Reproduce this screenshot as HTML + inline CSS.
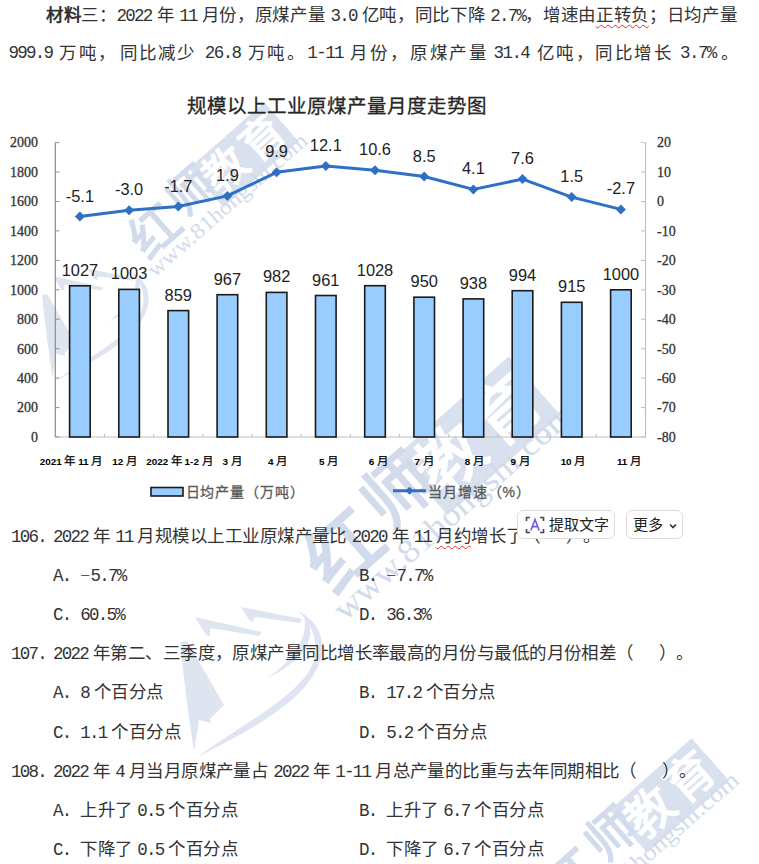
<!DOCTYPE html>
<html lang="zh-CN"><head><meta charset="utf-8">
<style>
html,body{margin:0;padding:0;background:#fff;}
body{width:759px;height:864px;position:relative;overflow:hidden;text-spacing-trim:space-all;font-family:"Liberation Serif",serif;color:#000;}
.t{position:absolute;font-size:17.5px;line-height:20px;white-space:nowrap;letter-spacing:0.45px;color:#333;}
.n{font-family:"Liberation Mono",monospace;letter-spacing:-1.75px;}
.j{text-align:justify;text-align-last:justify;}
svg{position:absolute;left:0;top:0;}
.ax{font-family:"Liberation Serif",serif;font-size:14px;fill:#333;stroke:#333;stroke-width:0.3px;}
.dl{font-family:"Liberation Sans",sans-serif;font-size:16.4px;fill:#222;}
.xl{font-family:"Liberation Sans",sans-serif;font-size:9.9px;font-weight:bold;fill:#000;}
.xc{font-size:11.5px;font-weight:normal;stroke:#000;stroke-width:0.25px;}
.ttl{font-family:"Liberation Sans",sans-serif;font-size:19.5px;font-weight:400;fill:#262626;stroke:#262626;stroke-width:0.3px;}
.lg{font-family:"Liberation Sans",sans-serif;font-size:14px;fill:#595959;stroke:#595959;stroke-width:0.3px;}
.btn{position:absolute;background:#fff;border:1px solid #dcdcdc;border-radius:6px;font-family:"Liberation Sans",sans-serif;font-size:15px;color:#222;box-sizing:border-box;}
.wmc{font-family:"Liberation Serif",serif;font-size:44px;font-weight:bold;}
.wmu{font-family:"Liberation Serif",serif;font-size:22px;}
.sq{text-decoration:underline wavy #e03030;text-decoration-thickness:1px;text-underline-offset:3px;}
</style></head><body>
<svg width="759" height="864" viewBox="0 0 759 864">
<g transform="translate(180 642) scale(1.0)">
<path d="M0 0 L7 -1 L44 63 L30 77 L31 81 L19 78 L14 110 C9 75 4 40 0 0Z" fill="#dee5f0"/>
<path d="M15 -25 L82 -10 L79 -6 L30 -14 L30 -6 L26 -7 Z" fill="#dee5f0"/>
<path d="M61 -35 L122 -23 L120 -19 L75 -25 L73 -20 L70 -21 Z" fill="#dee5f0"/>
<path d="M118 -31 C150 -15 150 20 120 50 C90 80 45 100 18 115 C50 90 100 65 125 35 C140 15 140 -10 118 -31Z" fill="#dee5f0"/>
<path d="M124 -28 C138 -10 130 15 88 36 C120 12 128 -8 124 -28Z" fill="#dee5f0"/>
</g>
<g transform="translate(42 295) scale(0.75)">
<path d="M0 0 L7 -1 L44 63 L30 77 L31 81 L19 78 L14 110 C9 75 4 40 0 0Z" fill="#dee5f0"/>
<path d="M15 -25 L82 -10 L79 -6 L30 -14 L30 -6 L26 -7 Z" fill="#dee5f0"/>
<path d="M61 -35 L122 -23 L120 -19 L75 -25 L73 -20 L70 -21 Z" fill="#dee5f0"/>
<path d="M118 -31 C150 -15 150 20 120 50 C90 80 45 100 18 115 C50 90 100 65 125 35 C140 15 140 -10 118 -31Z" fill="#dee5f0"/>
<path d="M124 -28 C138 -10 130 15 88 36 C120 12 128 -8 124 -28Z" fill="#dee5f0"/>
</g>
<g transform="translate(155 278) rotate(-41.3) scale(1.0)">
<rect x="98" y="-60" width="100" height="52" fill="#d9e1ee"/>
<text x="31" y="-18" text-anchor="middle" class="wmc" style="font-size:50px" fill="#d2dbeb">红</text>
<text x="84" y="-26" text-anchor="middle" class="wmc" style="font-size:46px" fill="#d2dbeb">师</text>
<text x="124" y="-19" text-anchor="middle" class="wmc" style="font-size:44px" fill="#fff">教</text>
<text x="173" y="-19" text-anchor="middle" class="wmc" style="font-size:44px" fill="#fff">育</text>
<text x="0" y="0" class="wmu" fill="#d2dbeb" textLength="205" lengthAdjust="spacingAndGlyphs">www.81hongshi.com</text>
</g>
<g transform="translate(345 622) rotate(-41.5) scale(1.507)">
<rect x="98" y="-60" width="100" height="52" fill="#d9e1ee"/>
<text x="31" y="-18" text-anchor="middle" class="wmc" style="font-size:50px" fill="#d2dbeb">红</text>
<text x="84" y="-26" text-anchor="middle" class="wmc" style="font-size:46px" fill="#d2dbeb">师</text>
<text x="124" y="-19" text-anchor="middle" class="wmc" style="font-size:44px" fill="#fff">教</text>
<text x="173" y="-19" text-anchor="middle" class="wmc" style="font-size:44px" fill="#fff">育</text>
<text x="0" y="0" class="wmu" fill="#d2dbeb" textLength="205" lengthAdjust="spacingAndGlyphs">www.81hongshi.com</text>
</g>
<g transform="translate(572.7 929.7) rotate(-41.3) scale(1.09)">
<rect x="98" y="-60" width="100" height="52" fill="#d9e1ee"/>
<text x="31" y="-18" text-anchor="middle" class="wmc" style="font-size:50px" fill="#d2dbeb">红</text>
<text x="84" y="-26" text-anchor="middle" class="wmc" style="font-size:46px" fill="#d2dbeb">师</text>
<text x="124" y="-19" text-anchor="middle" class="wmc" style="font-size:44px" fill="#fff">教</text>
<text x="173" y="-19" text-anchor="middle" class="wmc" style="font-size:44px" fill="#fff">育</text>
<text x="0" y="0" class="wmu" fill="#d2dbeb" textLength="205" lengthAdjust="spacingAndGlyphs">www.81hongshi.com</text>
</g>
</svg>
<svg width="759" height="864" viewBox="0 0 759 864">
<text x="337" y="113" text-anchor="middle" class="ttl">规模以上工业原煤产量月度走势图</text>
<line x1="55.3" y1="142.6" x2="55.3" y2="437.0" stroke="#8c8c8c" stroke-width="1.2"/>
<line x1="645.5" y1="142.6" x2="645.5" y2="437.0" stroke="#bfbfbf" stroke-width="1.2"/>
<line x1="55.3" y1="437.0" x2="645.5" y2="437.0" stroke="#bfbfbf" stroke-width="1.2"/>
<line x1="55.3" y1="437.0" x2="59.3" y2="437.0" stroke="#8c8c8c" stroke-width="1"/>
<text x="38" y="441.8" text-anchor="end" class="ax">0</text>
<line x1="641.0" y1="142.6" x2="645.5" y2="142.6" stroke="#bfbfbf" stroke-width="1"/>
<text x="657" y="147.4" class="ax">20</text>
<line x1="55.3" y1="407.6" x2="59.3" y2="407.6" stroke="#8c8c8c" stroke-width="1"/>
<text x="38" y="412.4" text-anchor="end" class="ax">200</text>
<line x1="641.0" y1="172.0" x2="645.5" y2="172.0" stroke="#bfbfbf" stroke-width="1"/>
<text x="657" y="176.8" class="ax">10</text>
<line x1="55.3" y1="378.1" x2="59.3" y2="378.1" stroke="#8c8c8c" stroke-width="1"/>
<text x="38" y="382.9" text-anchor="end" class="ax">400</text>
<line x1="641.0" y1="201.5" x2="645.5" y2="201.5" stroke="#bfbfbf" stroke-width="1"/>
<text x="657" y="206.3" class="ax">0</text>
<line x1="55.3" y1="348.7" x2="59.3" y2="348.7" stroke="#8c8c8c" stroke-width="1"/>
<text x="38" y="353.5" text-anchor="end" class="ax">600</text>
<line x1="641.0" y1="230.9" x2="645.5" y2="230.9" stroke="#bfbfbf" stroke-width="1"/>
<text x="657" y="235.7" class="ax">-10</text>
<line x1="55.3" y1="319.2" x2="59.3" y2="319.2" stroke="#8c8c8c" stroke-width="1"/>
<text x="38" y="324.0" text-anchor="end" class="ax">800</text>
<line x1="641.0" y1="260.4" x2="645.5" y2="260.4" stroke="#bfbfbf" stroke-width="1"/>
<text x="657" y="265.2" class="ax">-20</text>
<line x1="55.3" y1="289.8" x2="59.3" y2="289.8" stroke="#8c8c8c" stroke-width="1"/>
<text x="38" y="294.6" text-anchor="end" class="ax">1000</text>
<line x1="641.0" y1="289.8" x2="645.5" y2="289.8" stroke="#bfbfbf" stroke-width="1"/>
<text x="657" y="294.6" class="ax">-30</text>
<line x1="55.3" y1="260.4" x2="59.3" y2="260.4" stroke="#8c8c8c" stroke-width="1"/>
<text x="38" y="265.2" text-anchor="end" class="ax">1200</text>
<line x1="641.0" y1="319.2" x2="645.5" y2="319.2" stroke="#bfbfbf" stroke-width="1"/>
<text x="657" y="324.0" class="ax">-40</text>
<line x1="55.3" y1="230.9" x2="59.3" y2="230.9" stroke="#8c8c8c" stroke-width="1"/>
<text x="38" y="235.7" text-anchor="end" class="ax">1400</text>
<line x1="641.0" y1="348.7" x2="645.5" y2="348.7" stroke="#bfbfbf" stroke-width="1"/>
<text x="657" y="353.5" class="ax">-50</text>
<line x1="55.3" y1="201.5" x2="59.3" y2="201.5" stroke="#8c8c8c" stroke-width="1"/>
<text x="38" y="206.3" text-anchor="end" class="ax">1600</text>
<line x1="641.0" y1="378.1" x2="645.5" y2="378.1" stroke="#bfbfbf" stroke-width="1"/>
<text x="657" y="382.9" class="ax">-60</text>
<line x1="55.3" y1="172.0" x2="59.3" y2="172.0" stroke="#8c8c8c" stroke-width="1"/>
<text x="38" y="176.8" text-anchor="end" class="ax">1800</text>
<line x1="641.0" y1="407.6" x2="645.5" y2="407.6" stroke="#bfbfbf" stroke-width="1"/>
<text x="657" y="412.4" class="ax">-70</text>
<line x1="55.3" y1="142.6" x2="59.3" y2="142.6" stroke="#8c8c8c" stroke-width="1"/>
<text x="38" y="147.4" text-anchor="end" class="ax">2000</text>
<line x1="641.0" y1="437.0" x2="645.5" y2="437.0" stroke="#bfbfbf" stroke-width="1"/>
<text x="657" y="441.8" class="ax">-80</text>
<line x1="104.5" y1="434.0" x2="104.5" y2="437.0" stroke="#bfbfbf" stroke-width="1"/>
<line x1="153.7" y1="434.0" x2="153.7" y2="437.0" stroke="#bfbfbf" stroke-width="1"/>
<line x1="202.9" y1="434.0" x2="202.9" y2="437.0" stroke="#bfbfbf" stroke-width="1"/>
<line x1="252.0" y1="434.0" x2="252.0" y2="437.0" stroke="#bfbfbf" stroke-width="1"/>
<line x1="301.2" y1="434.0" x2="301.2" y2="437.0" stroke="#bfbfbf" stroke-width="1"/>
<line x1="350.4" y1="434.0" x2="350.4" y2="437.0" stroke="#bfbfbf" stroke-width="1"/>
<line x1="399.6" y1="434.0" x2="399.6" y2="437.0" stroke="#bfbfbf" stroke-width="1"/>
<line x1="448.8" y1="434.0" x2="448.8" y2="437.0" stroke="#bfbfbf" stroke-width="1"/>
<line x1="498.0" y1="434.0" x2="498.0" y2="437.0" stroke="#bfbfbf" stroke-width="1"/>
<line x1="547.1" y1="434.0" x2="547.1" y2="437.0" stroke="#bfbfbf" stroke-width="1"/>
<line x1="596.3" y1="434.0" x2="596.3" y2="437.0" stroke="#bfbfbf" stroke-width="1"/>
<rect x="69.6" y="285.8" width="20.6" height="151.2" fill="#99ccff" stroke="#1a1a1a" stroke-width="1.6"/>
<text x="79.9" y="275.8" text-anchor="middle" class="dl">1027</text>
<rect x="118.8" y="289.4" width="20.6" height="147.6" fill="#99ccff" stroke="#1a1a1a" stroke-width="1.6"/>
<text x="129.1" y="279.4" text-anchor="middle" class="dl">1003</text>
<rect x="168.0" y="310.6" width="20.6" height="126.4" fill="#99ccff" stroke="#1a1a1a" stroke-width="1.6"/>
<text x="178.3" y="300.6" text-anchor="middle" class="dl">859</text>
<rect x="217.1" y="294.7" width="20.6" height="142.3" fill="#99ccff" stroke="#1a1a1a" stroke-width="1.6"/>
<text x="227.4" y="284.7" text-anchor="middle" class="dl">967</text>
<rect x="266.3" y="292.4" width="20.6" height="144.6" fill="#99ccff" stroke="#1a1a1a" stroke-width="1.6"/>
<text x="276.6" y="282.4" text-anchor="middle" class="dl">982</text>
<rect x="315.5" y="295.5" width="20.6" height="141.5" fill="#99ccff" stroke="#1a1a1a" stroke-width="1.6"/>
<text x="325.8" y="285.5" text-anchor="middle" class="dl">961</text>
<rect x="364.7" y="285.7" width="20.6" height="151.3" fill="#99ccff" stroke="#1a1a1a" stroke-width="1.6"/>
<text x="375.0" y="275.7" text-anchor="middle" class="dl">1028</text>
<rect x="413.9" y="297.2" width="20.6" height="139.8" fill="#99ccff" stroke="#1a1a1a" stroke-width="1.6"/>
<text x="424.2" y="287.2" text-anchor="middle" class="dl">950</text>
<rect x="463.1" y="298.9" width="20.6" height="138.1" fill="#99ccff" stroke="#1a1a1a" stroke-width="1.6"/>
<text x="473.4" y="288.9" text-anchor="middle" class="dl">938</text>
<rect x="512.2" y="290.7" width="20.6" height="146.3" fill="#99ccff" stroke="#1a1a1a" stroke-width="1.6"/>
<text x="522.5" y="280.7" text-anchor="middle" class="dl">994</text>
<rect x="561.4" y="302.3" width="20.6" height="134.7" fill="#99ccff" stroke="#1a1a1a" stroke-width="1.6"/>
<text x="571.7" y="292.3" text-anchor="middle" class="dl">915</text>
<rect x="610.6" y="289.8" width="20.6" height="147.2" fill="#99ccff" stroke="#1a1a1a" stroke-width="1.6"/>
<text x="620.9" y="279.8" text-anchor="middle" class="dl">1000</text>
<polyline points="79.9,216.5 129.1,210.3 178.3,206.5 227.4,195.9 276.6,172.3 325.8,165.9 375.0,170.3 424.2,176.5 473.4,189.4 522.5,179.1 571.7,197.1 620.9,209.4" fill="none" stroke="#2f6fc4" stroke-width="3" stroke-linejoin="round"/>
<path d="M79.9 211.5L84.9 216.5L79.9 221.5L74.9 216.5Z" fill="#2f6fc4"/>
<text x="79.9" y="201.5" text-anchor="middle" class="dl">-5.1</text>
<path d="M129.1 205.3L134.1 210.3L129.1 215.3L124.1 210.3Z" fill="#2f6fc4"/>
<text x="129.1" y="195.3" text-anchor="middle" class="dl">-3.0</text>
<path d="M178.3 201.5L183.3 206.5L178.3 211.5L173.3 206.5Z" fill="#2f6fc4"/>
<text x="178.3" y="191.5" text-anchor="middle" class="dl">-1.7</text>
<path d="M227.4 190.9L232.4 195.9L227.4 200.9L222.4 195.9Z" fill="#2f6fc4"/>
<text x="227.4" y="180.9" text-anchor="middle" class="dl">1.9</text>
<path d="M276.6 167.3L281.6 172.3L276.6 177.3L271.6 172.3Z" fill="#2f6fc4"/>
<text x="276.6" y="157.3" text-anchor="middle" class="dl">9.9</text>
<path d="M325.8 160.9L330.8 165.9L325.8 170.9L320.8 165.9Z" fill="#2f6fc4"/>
<text x="325.8" y="150.9" text-anchor="middle" class="dl">12.1</text>
<path d="M375.0 165.3L380.0 170.3L375.0 175.3L370.0 170.3Z" fill="#2f6fc4"/>
<text x="375.0" y="155.3" text-anchor="middle" class="dl">10.6</text>
<path d="M424.2 171.5L429.2 176.5L424.2 181.5L419.2 176.5Z" fill="#2f6fc4"/>
<text x="424.2" y="161.5" text-anchor="middle" class="dl">8.5</text>
<path d="M473.4 184.4L478.4 189.4L473.4 194.4L468.4 189.4Z" fill="#2f6fc4"/>
<text x="473.4" y="174.4" text-anchor="middle" class="dl">4.1</text>
<path d="M522.5 174.1L527.5 179.1L522.5 184.1L517.5 179.1Z" fill="#2f6fc4"/>
<text x="522.5" y="164.1" text-anchor="middle" class="dl">7.6</text>
<path d="M571.7 192.1L576.7 197.1L571.7 202.1L566.7 197.1Z" fill="#2f6fc4"/>
<text x="571.7" y="182.1" text-anchor="middle" class="dl">1.5</text>
<path d="M620.9 204.4L625.9 209.4L620.9 214.4L615.9 209.4Z" fill="#2f6fc4"/>
<text x="620.9" y="194.4" text-anchor="middle" class="dl">-2.7</text>
<text x="71" y="465.3" text-anchor="middle" class="xl">2021 <tspan class="xc">年</tspan> 11 <tspan class="xc">月</tspan></text>
<text x="124.6" y="465.3" text-anchor="middle" class="xl">12 <tspan class="xc">月</tspan></text>
<text x="179.4" y="465.3" text-anchor="middle" class="xl">2022 <tspan class="xc">年</tspan> 1-2 <tspan class="xc">月</tspan></text>
<text x="232" y="465.3" text-anchor="middle" class="xl">3 <tspan class="xc">月</tspan></text>
<text x="277.5" y="465.3" text-anchor="middle" class="xl">4 <tspan class="xc">月</tspan></text>
<text x="328.5" y="465.3" text-anchor="middle" class="xl">5 <tspan class="xc">月</tspan></text>
<text x="378.4" y="465.3" text-anchor="middle" class="xl">6 <tspan class="xc">月</tspan></text>
<text x="424" y="465.3" text-anchor="middle" class="xl">7 <tspan class="xc">月</tspan></text>
<text x="474.4" y="465.3" text-anchor="middle" class="xl">8 <tspan class="xc">月</tspan></text>
<text x="520" y="465.3" text-anchor="middle" class="xl">9 <tspan class="xc">月</tspan></text>
<text x="573" y="465.3" text-anchor="middle" class="xl">10 <tspan class="xc">月</tspan></text>
<text x="629" y="465.3" text-anchor="middle" class="xl">11 <tspan class="xc">月</tspan></text>
<rect x="151" y="487.5" width="32" height="8.5" fill="#99ccff" stroke="#1a1a1a" stroke-width="1.6"/>
<text x="185.5" y="497" class="lg" letter-spacing="0.9">日均产量（万吨）</text>
<line x1="393" y1="490.7" x2="426" y2="490.7" stroke="#2f6fc4" stroke-width="3"/>
<path d="M409.5 486.7L413.5 490.7L409.5 494.7L405.5 490.7Z" fill="#2f6fc4"/>
<text x="428" y="497" class="lg" letter-spacing="0.9">当月增速（%）</text>
</svg>
<div class="t j" style="left:46px;top:5px;width:691px"><b>材料</b>三：<span class="n">2022</span> 年 <span class="n">11</span> 月份，原煤产量 <span class="n">3.0</span> 亿吨，同比下降 <span class="n">2.7%</span>，增速由<span class="sq">正转负</span>；日均产量</div>
<div class="t" style="left:10px;top:43px;width:727px;height:20px"><span class="n" style="position:absolute;left:-1.50px;letter-spacing:-1.75px">999.9</span><span style="position:absolute;left:49.00px;letter-spacing:2.50px">万吨，</span><span style="position:absolute;left:110.25px;letter-spacing:1.75px">同比减少</span><span class="n" style="position:absolute;left:194.75px;letter-spacing:-1.55px">26.8</span><span style="position:absolute;left:237.75px;letter-spacing:2.50px">万吨。</span><span class="n" style="position:absolute;left:297.25px;letter-spacing:-1.55px">1-11</span><span style="position:absolute;left:340.25px;letter-spacing:2.85px">月份，原煤产量</span><span class="n" style="position:absolute;left:483.50px;letter-spacing:-1.55px">31.4</span><span style="position:absolute;left:526.50px;letter-spacing:2.55px">亿吨，同比增长</span><span class="n" style="position:absolute;left:670.00px;letter-spacing:-1.55px">3.7%</span><span style="position:absolute;left:710.50px;letter-spacing:0.00px">。</span></div>

<div class="t" style="left:11px;top:526.0px"><span class="n">106.</span></div>
<div class="t" style="left:53px;top:526.0px"><span class="n">2022</span> 年 <span class="n">11</span> 月规模以上工业原煤产量比 <span class="n">2020</span> 年 <span class="n">11</span> <span class="sq">月约</span>增长了（<span style="display:inline-block;width:25px"></span>）。</div>
<div class="t" style="left:53px;top:565.1px"><span class="n">A.</span>&nbsp; −<span class="n">5.7%</span></div>
<div class="t" style="left:359px;top:565.1px"><span class="n">B.</span>&nbsp; −<span class="n">7.7%</span></div>
<div class="t" style="left:53px;top:604.2px"><span class="n">C.</span>&nbsp; <span class="n">60.5%</span></div>
<div class="t" style="left:359px;top:604.2px"><span class="n">D.</span>&nbsp; <span class="n">36.3%</span></div>

<div class="t" style="left:11px;top:643.3px"><span class="n">107.</span></div>
<div class="t" style="left:53px;top:643.3px"><span class="n">2022</span> 年第二、三季度，原煤产量同比增长率最高的月份与最低的月份相差（<span style="display:inline-block;width:25px"></span>）。</div>
<div class="t" style="left:53px;top:682.4px"><span class="n">A.</span>&nbsp; <span class="n">8</span> 个百分点</div>
<div class="t" style="left:359px;top:682.4px"><span class="n">B.</span>&nbsp; <span class="n">17.2</span> 个百分点</div>
<div class="t" style="left:53px;top:721.5px"><span class="n">C.</span>&nbsp; <span class="n">1.1</span> 个百分点</div>
<div class="t" style="left:359px;top:721.5px"><span class="n">D.</span>&nbsp; <span class="n">5.2</span> 个百分点</div>

<div class="t" style="left:11px;top:760.6px"><span class="n">108.</span></div>
<div class="t" style="left:53px;top:760.6px"><span class="n">2022</span> 年 <span class="n">4</span> 月当月原煤产量占 <span class="n">2022</span> 年 <span class="n">1-11</span> 月总产量的比重与去年同期相比（<span style="display:inline-block;width:25px"></span>）。</div>
<div class="t" style="left:53px;top:799.7px"><span class="n">A.</span>&nbsp; 上升了 <span class="n">0.5</span> 个百分点</div>
<div class="t" style="left:359px;top:799.7px"><span class="n">B.</span>&nbsp; 上升了 <span class="n">6.7</span> 个百分点</div>
<div class="t" style="left:53px;top:838.8px"><span class="n">C.</span>&nbsp; 下降了 <span class="n">0.5</span> 个百分点</div>
<div class="t" style="left:359px;top:838.8px"><span class="n">D.</span>&nbsp; 下降了 <span class="n">6.7</span> 个百分点</div>

<div class="btn" style="left:517px;top:510px;width:98px;height:28.5px;"><svg width="22" height="22" viewBox="0 0 22 22" style="position:absolute;left:6px;top:3px"><path d="M2.5 7V3.5H6M16 3.5H19.5V7M19.5 15V18.5H16M6 18.5H2.5V15" fill="none" stroke="#4a4a4a" stroke-width="1.6"/><path d="M6.8 16.5L11 5.5L15.2 16.5M8.3 12.6H13.7" fill="none" stroke="#7a55e8" stroke-width="1.6"/></svg><span style="position:absolute;left:31px;top:4px;line-height:20px;">提取文字</span></div>
<div class="btn" style="left:626px;top:510px;width:57px;height:29px;"><span style="position:absolute;left:6px;top:4px;line-height:20px;">更多</span><svg width="10" height="10" viewBox="0 0 10 10" style="position:absolute;left:41px;top:10px"><path d="M2 3.5L5 6.5L8 3.5" fill="none" stroke="#333" stroke-width="1.6"/></svg></div>
</body></html>
